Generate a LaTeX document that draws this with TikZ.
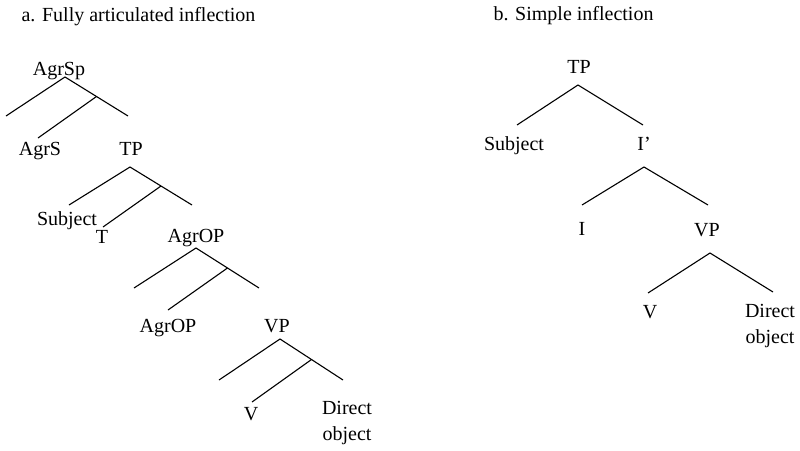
\documentclass[tikz,border=0pt]{standalone}
\usepackage{fontspec}
\setmainfont{Liberation Serif}
\usepackage{tikz}

\begin{document}
\begin{tikzpicture}[x=1pt,y=-1pt,line width=1.1pt]
  \tikzstyle{cat}=[inner sep=0pt,anchor=base,font=\fontsize{20}{26}\selectfont]
  \tikzstyle{title}=[cat,anchor=base west]
  \tikzstyle{obj}=[cat,anchor=north,align=center]

  \useasboundingbox (0,0) rectangle (800,450);

  % a. fully articulated inflection
  \node[title] (ta) at (21,21) {a. Fully articulated inflection};

  \node[cat] (agrsp) at (59,75) {AgrSp};
  \node[cat] (agrs) at (40,155) {AgrS};
  \node[cat] (tp) at (131,155) {TP};
  \node[cat] (subj) at (67,225) {Subject};
  \node[cat] (t) at (102,243) {T};
  \node[cat] (agrop) at (196,242) {AgrOP};
  \node[cat] (agro) at (168,332) {AgrOP};
  \node[cat] (vp) at (277,332) {VP};
  \node[cat] (v) at (251,420) {V};
  \node[obj] (dobj) at (347,401) {Direct\\object};

  \coordinate (agrspA) at (65,77);
  \coordinate (agrspL) at (6,116);
  \coordinate (agrspR) at (128,116);
  \coordinate (agrsE) at (38,138);

  \coordinate (tpA) at (130,167);
  \coordinate (tpL) at (69,205);
  \coordinate (tpR) at (192,205);
  \coordinate (tE) at (103,227);

  \coordinate (agropA) at (196,248);
  \coordinate (agropL) at (134,288);
  \coordinate (agropR) at (259,288);
  \coordinate (agroE) at (168,310);

  \coordinate (vpA) at (280,339);
  \coordinate (vpL) at (219,380);
  \coordinate (vpR) at (343,380);
  \coordinate (vE) at (252,402);

  \draw (agrspL) -- (agrspA) -- (agrspR) coordinate[pos=.5] (agrspM);
  \draw (agrspM) -- (agrsE);
  \draw (tpL) -- (tpA) -- (tpR) coordinate[pos=.5] (tpM);
  \draw (tpM) -- (tE);
  \draw (agropL) -- (agropA) -- (agropR) coordinate[pos=.5] (agropM);
  \draw (agropM) -- (agroE);
  \draw (vpL) -- (vpA) -- (vpR) coordinate[pos=.5] (vpM);
  \draw (vpM) -- (vE);

  % b. simple inflection
  \node[title] (tb) at (493,20) {b. Simple inflection};

  \node[cat] (tp2) at (579,73) {TP};
  \node[cat] (subj2) at (514,150) {Subject};
  \node[cat] (ibar) at (644,150) {I’};
  \node[cat] (i) at (582,235) {I};
  \node[cat] (vp2) at (707,236) {VP};
  \node[cat] (v2) at (650,318) {V};
  \node[obj] (dobj2) at (770,304) {Direct\\object};

  \coordinate (tp2A) at (578,85);
  \coordinate (tp2L) at (517,125);
  \coordinate (tp2R) at (643,125);
  \coordinate (ibarA) at (644,167);
  \coordinate (ibarL) at (582,205);
  \coordinate (ibarR) at (708,205);
  \coordinate (vp2A) at (710,253);
  \coordinate (vp2L) at (648,293);
  \coordinate (vp2R) at (773,292);

  \draw (tp2L) -- (tp2A) -- (tp2R);
  \draw (ibarL) -- (ibarA) -- (ibarR);
  \draw (vp2L) -- (vp2A) -- (vp2R);
\end{tikzpicture}
\end{document}
